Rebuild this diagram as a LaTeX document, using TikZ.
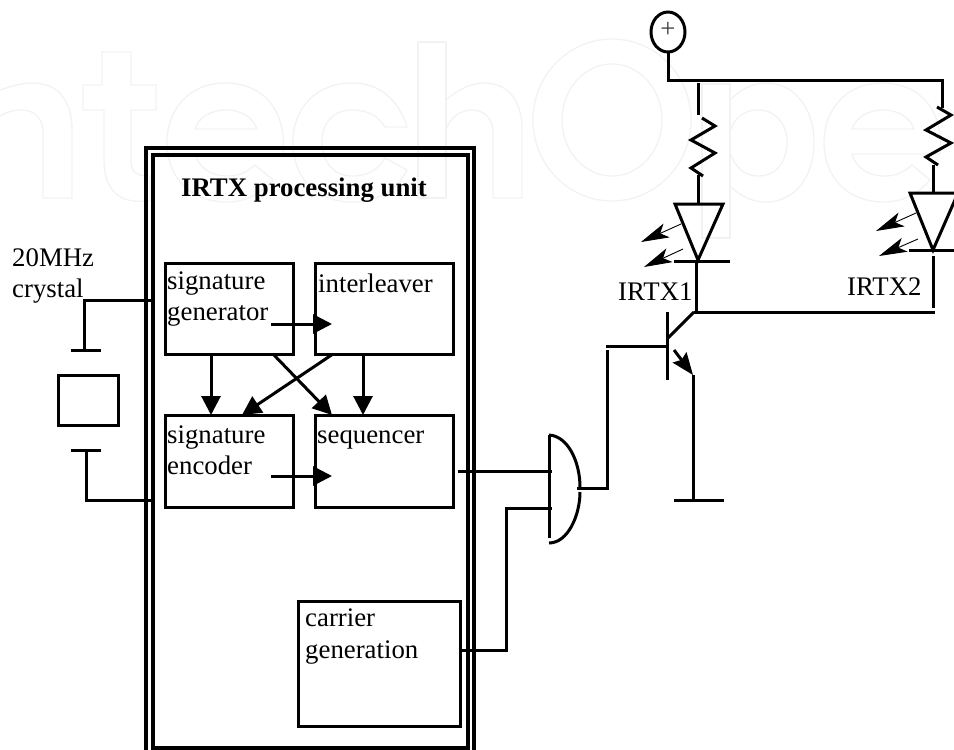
\documentclass[tikz,border=0pt]{standalone}
\usepackage{fontspec}
\setmainfont{Liberation Serif}
\usetikzlibrary{arrows.meta,shapes.geometric}
\tikzset{
	wire/.style={line width=3pt},
	wmark/.style={line width=1.3pt, color=black!5},
	blockbox/.style={draw, line width=3pt, anchor=north west, inner sep=0, outer sep=0},
	boxtext/.style={anchor=north west, inner sep=0, align=left, font=\fontsize{26.8}{31.5}\selectfont},
	dataarrow/.style={line width=3pt, -{Triangle[length=19pt,width=19pt]}},
	rayarrow/.style={line width=0.9pt, -{Stealth[length=28pt,width=15pt,inset=7pt]}}
}
\begin{document}
\begin{tikzpicture}[x=1pt, y=-1pt]
		\useasboundingbox (0, 0) rectangle (954, 750);

		% watermark
		\draw[wmark] (0, 90) .. controls (14, 85) and (24, 83) .. (32, 83) .. controls (58, 83) and (72, 100) .. (72, 130) -- (72, 198) -- (43, 198) -- (43, 132) .. controls (43, 118) and (34, 110) .. (22, 110) .. controls (14, 110) and (6, 112) .. (0, 116);
		\draw[wmark] (102, 52) -- (131, 52) -- (131, 85) -- (156, 85) -- (156, 110) -- (131, 110) -- (131, 160) .. controls (131, 172) and (136, 176) .. (150, 176) -- (150, 200) .. controls (120, 206) and (104, 190) .. (104, 160) -- (104, 110) -- (83, 110) -- (83, 85) -- (102, 85) -- cycle;
		\foreach \cx in {225, 882} {
			\draw[wmark] (\cx-30, 154) -- (\cx+58, 154) .. controls (\cx+62, 110) and (\cx+38, 83) .. (\cx, 83) .. controls (\cx-36, 83) and (\cx-58, 110) .. (\cx-58, 142) .. controls (\cx-58, 178) and (\cx-34, 202) .. (\cx+2, 202) .. controls (\cx+20, 202) and (\cx+36, 194) .. (\cx+48, 180) -- (\cx+30, 165) .. controls (\cx+22, 172) and (\cx+14, 176) .. (\cx+3, 176) .. controls (\cx-14, 176) and (\cx-26, 168) .. (\cx-30, 154) -- cycle;
			\draw[wmark] (\cx-30, 129) .. controls (\cx-26, 117) and (\cx-14, 110) .. (\cx+1, 110) .. controls (\cx+16, 110) and (\cx+28, 117) .. (\cx+32, 129) -- cycle;
		}
		\draw[wmark] (407, 127) -- (385, 127) .. controls (378, 116) and (368, 110) .. (352, 110) .. controls (334, 110) and (322, 122) .. (322, 142) .. controls (322, 162) and (334, 176) .. (352, 176) .. controls (368, 176) and (378, 170) .. (385, 158) -- (407, 170) .. controls (396, 192) and (376, 202) .. (352, 202) .. controls (316, 202) and (293, 178) .. (293, 142) .. controls (293, 108) and (316, 83) .. (352, 83) .. controls (378, 83) and (398, 98) .. (407, 127) -- cycle;
		\draw[wmark] (418, 42) -- (446, 42) -- (446, 198) -- (418, 198) -- cycle;
		\draw[wmark] (446, 100) .. controls (458, 90) and (470, 83) .. (484, 83) .. controls (508, 83) and (522, 100) .. (522, 130) -- (522, 198) -- (493, 198) -- (493, 132) .. controls (493, 118) and (484, 110) .. (472, 110) .. controls (460, 110) and (450, 118) .. (446, 130);
		\draw[wmark] (612, 120) ellipse [x radius=79, y radius=81];
		\draw[wmark] (612, 120) ellipse [x radius=50, y radius=56];
		\draw[wmark] (702, 84) -- (730, 84) -- (730, 238) -- (702, 238) -- cycle;
		\draw[wmark] (730, 100) .. controls (740, 90) and (752, 83) .. (766, 83) .. controls (794, 83) and (814, 108) .. (814, 142) .. controls (814, 178) and (794, 202) .. (766, 202) .. controls (752, 202) and (740, 196) .. (730, 186);
		\draw[wmark] (758, 110) .. controls (776, 110) and (787, 124) .. (787, 142) .. controls (787, 162) and (776, 176) .. (758, 176) .. controls (744, 176) and (734, 166) .. (730, 152) -- (730, 132) .. controls (734, 118) and (744, 110) .. (758, 110) -- cycle;

		% processing unit
		\node[blockbox, line width=3.6pt, minimum width=328pt, minimum height=608pt] (frameout) at (146, 148) {};
		\node[blockbox, line width=3.6pt, minimum width=315pt, minimum height=593pt] (framein) at (153, 155) {};
		\node[boxtext, font=\fontsize{26.8}{31.5}\selectfont\bfseries, anchor=base] (title) at (304, 196) {IRTX processing unit};

		\node[blockbox, minimum width=128pt, minimum height=91pt] (siggen) at (165, 263) {};
		\node[blockbox, minimum width=138pt, minimum height=91pt] (interl) at (315, 263) {};
		\node[blockbox, minimum width=128pt, minimum height=92pt] (sigenc) at (165, 415) {};
		\node[blockbox, minimum width=138pt, minimum height=92pt] (seqr) at (315, 415) {};
		\node[blockbox, minimum width=162pt, minimum height=125pt] (carrier) at (298, 601) {};

		\node[boxtext] (siggentext) at (167, 271.5) {signature\\generator};
		\node[boxtext] (interltext) at (318, 274) {interleaver};
		\node[boxtext] (sigenctext) at (167, 425.5) {signature\\encoder};
		\node[boxtext] (seqrtext) at (317, 430.7) {sequencer};
		\node[boxtext] (carriertext) at (305, 609) {carrier\\generation};

		\draw[dataarrow] ([xshift=-22pt, yshift=-15.5pt]siggen.east) -- ([xshift=17pt, yshift=-15.5pt]interl.west);
		\draw[dataarrow] ([xshift=-22pt, yshift=-15pt]sigenc.east) -- ([xshift=17pt, yshift=-15pt]seqr.west);
		\draw[dataarrow] ([xshift=-18pt]siggen.south) -- ([xshift=-18pt]sigenc.north);
		\draw[dataarrow] ([xshift=-21pt]interl.south) -- ([xshift=-21pt]seqr.north);
		\draw[dataarrow] ([xshift=44pt]siggen.south) -- ([xshift=-52pt]seqr.north);
		\draw[dataarrow] ([xshift=-51pt]interl.south) -- ([xshift=13pt]sigenc.north);

		% crystal
		\node[boxtext] (xtaltext) at (12, 248) {20MHz\\crystal};
		\node[blockbox, minimum width=60pt, minimum height=50pt] (xtal) at (58, 375) {};
		\coordinate (p1l) at (71, 350);
		\coordinate (p1r) at (101, 350);
		\coordinate (p1) at (84, 350);
		\coordinate (p2l) at (71, 450.5);
		\coordinate (p2r) at (101, 450.5);
		\coordinate (p2) at (86, 450.5);
		\draw[wire] (p1l) -- (p1r);
		\draw[wire] (p2l) -- (p2r);
		\draw[wire] (151, 300.5) -- (84, 300.5) -- (p1);
		\draw[wire] (151, 500.5) -- (86, 500.5) -- (p2);

		% gate
		\coordinate (g1) at (549, 435);
		\coordinate (g2) at (549, 538);
		\coordinate (g3) at (549, 543);
		\coordinate (g4) at (580, 487);
		\coordinate (g5) at (580, 492);
		\coordinate (gout) at (577, 488);
		\draw[wire] (g1) -- (g2);
		\draw[wire] (g1) .. controls (568, 436) and (580, 462) .. (g4);
		\draw[wire] (g5) .. controls (580, 515) and (568, 543) .. (g3);
		\draw[wire] (458, 471) -- (552, 471);
		\draw[wire] (552, 508) -- (506, 508) -- (506, 650) -- (carrier.east |- 506, 650);
		\draw[wire] (gout) -- (607, 488) -- (607, 350);

		% transistor
		\coordinate (b1) at (667, 312);
		\coordinate (b2) at (667, 380);
		\coordinate (bw) at (606, 346);
		\coordinate (c) at (694, 312);
		\coordinate (e) at (693, 375);
		\coordinate (gnd) at (693, 500);
		\draw[wire] (b1) -- (b2);
		\draw[wire] (bw) -- (667, 346);
		\draw[wire] (668, 338) -- (c);
		\draw[wire, -{Stealth[length=22pt,width=17pt,inset=3pt]}] (674, 350) -- (e);
		\draw[wire] (e) -- (gnd);
		\draw[wire] (674, 500) -- (724, 500);
		\draw[wire] (c) -- (935, 312);

		% supply
		\node[draw, ellipse, line width=3pt, minimum width=34pt, minimum height=40pt, inner sep=0, outer sep=0, text=black!75, font=\fontsize{26.8}{26.8}\selectfont, text depth=4pt] (vcc) at (668, 32) {+};
		\coordinate (vccd) at (668, 80);
		\draw[wire] (vcc.south) -- (vccd) -- (942, 80) -- (942, 108);

		% branch 1
		\draw[wire] (698, 83) -- (698, 115);
		\draw[wire] (702, 118) -- (715, 126) -- (691, 140) -- (715, 153) -- (691, 168) -- (703, 176);
		\draw[wire] (698, 175) -- (698, 204);
		\coordinate (l1a) at (675, 204);
		\coordinate (l1b) at (723, 204);
		\coordinate (l1c) at (698, 260);
		\draw[wire] (l1a) -- (l1b) -- (l1c) -- cycle;
		\draw[wire] (674, 261) -- (730, 261);
		\draw[wire] (696, 261) -- (696, 312);
		\draw[rayarrow] (681, 224) -- (641, 242);
		\draw[rayarrow] (683, 249) -- (644, 267);
		\node[boxtext, anchor=base west] (irtx1) at (618, 300) {IRTX1};

		% branch 2
		\draw[wire] (937, 107) -- (951, 115) -- (926, 130) -- (951, 143) -- (926, 157) -- (938, 165);
		\draw[wire] (933, 165) -- (933, 193);
		\coordinate (l2a) at (910, 193);
		\coordinate (l2b) at (958, 193);
		\coordinate (l2c) at (933, 250);
		\draw[wire] (l2a) -- (l2b) -- (l2c) -- cycle;
		\draw[wire] (909, 250) -- (960, 250);
		\draw[wire] (933, 256) -- (933, 308);
		\draw[rayarrow] (916, 213) -- (876, 231);
		\draw[rayarrow] (918, 239) -- (879, 256);
		\node[boxtext, anchor=base west] (irtx2) at (847, 295) {IRTX2};
	\end{tikzpicture}
\end{document}
